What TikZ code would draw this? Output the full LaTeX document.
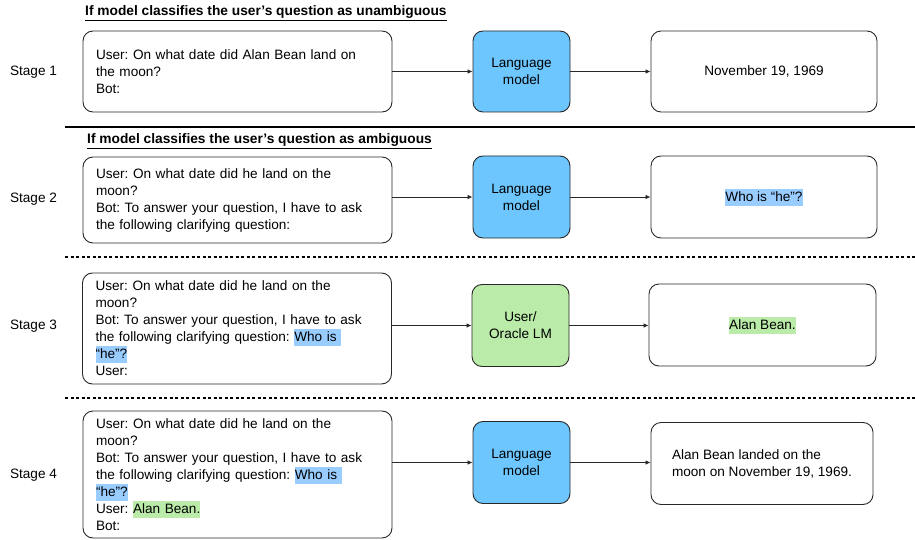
\documentclass[tikz,border=0pt]{standalone}
\usepackage{fontspec}
\setmainfont{Liberation Sans}
\usetikzlibrary{arrows.meta}
\frenchspacing
\definecolor{lmblue}{RGB}{110,198,255}
\definecolor{lmgreen}{RGB}{186,235,168}
\definecolor{hlblue}{RGB}{153,204,255}
\definecolor{hlgreen}{RGB}{186,235,168}
\definecolor{edgegray}{RGB}{40,40,40}
\newcommand{\hlb}[1]{{\setlength{\fboxsep}{0pt}\colorbox{hlblue}{\rule[-4.5pt]{0pt}{17pt}#1}}}
\newcommand{\hlg}[1]{{\setlength{\fboxsep}{0pt}\colorbox{hlgreen}{\rule[-4.5pt]{0pt}{17pt}#1}}}
\begin{document}
\begin{tikzpicture}[x=1pt,y=-1pt,
  every node/.style={font=\fontsize{13.6pt}{17pt}\selectfont, text=black},
  chat/.style={draw=edgegray, line width=0.9pt, rounded corners=10pt, align=left,
    text width=283pt, inner xsep=13pt, inner ysep=3pt},
  lmbox/.style={draw=edgegray, line width=0.9pt, rounded corners=10pt, align=center,
    minimum width=97pt, minimum height=82pt, fill=lmblue},
  outbox/.style={draw=edgegray, line width=0.9pt, rounded corners=10pt, align=center,
    minimum width=226pt, minimum height=82pt},
  title/.style={anchor=west, inner sep=0pt, font=\fontsize{13.75pt}{16pt}\selectfont\bfseries},
  arr/.style={-{Latex[length=5pt,width=4.5pt]}, line width=0.8pt, draw=edgegray},
  sep/.style={line width=1.2pt, draw=black}
]
\useasboundingbox (0,0) rectangle (915,540);

% titles
\node[title] (t1) at (85,13) {\underline{If model classifies the user’s question as unambiguous}};
\node[title] (t2) at (87,141) {\underline{If model classifies the user’s question as ambiguous}};

% stage labels
\node (s1) at (33.5,72) {Stage 1};
\node (s2) at (33.5,199) {Stage 2};
\node (s3) at (33.5,326) {Stage 3};
\node (s4) at (33.5,475) {Stage 4};

% stage 1
\node[chat, minimum height=81pt] (l1) at (237.5,71.5)
  {User: On what date did Alan Bean land on\\the moon?\\Bot:};
\node[lmbox, minimum height=81pt] (m1) at (521.5,71.5) {Language\\model};
\node[outbox, minimum height=81pt] (o1) at (764,71.5) {November 19, 1969};
\draw[arr] (l1.east |- m1.west) -- (m1.west);
\draw[arr] (m1.east) -- (o1.west |- m1.east);

\draw[sep] (65,127) -- (915,127);

% stage 2
\node[chat, minimum height=86pt] (l2) at (237.5,200)
  {User: On what date did he land on the\\moon?\\Bot: To answer your question, I have to ask\\the following clarifying question:};
\node[lmbox] (m2) at (521.5,197) {Language\\model};
\node[outbox] (o2) at (764,197) {\hlb{Who is “he”?}};
\draw[arr] (l2.east |- m2.west) -- (m2.west);
\draw[arr] (m2.east) -- (o2.west |- m2.east);

\draw[sep, line width=1.3pt, dash pattern=on 3pt off 2.5pt] (65,257) -- (915,257);

% stage 3
\node[chat, minimum height=111pt] (l3) at (237,328.5)
  {User: On what date did he land on the\\moon?\\Bot: To answer your question, I have to ask\\the following clarifying question: \hlb{Who is\ }\\\hlb{“he”?}\\User:};
\node[lmbox, fill=lmgreen] (m3) at (520.5,325.5) {User/\\Oracle LM};
\node[outbox, minimum width=227pt] (o3) at (762.5,325) {\hlg{Alan Bean.}};
\draw[arr] (l3.east |- m3.west) -- (m3.west);
\draw[arr] (m3.east) -- (o3.west |- m3.east);

\draw[sep, line width=1.3pt, dash pattern=on 3pt off 2.5pt] (65,398) -- (915,398);

% stage 4
\node[chat, minimum height=127pt] (l4) at (237.5,474.5)
  {User: On what date did he land on the\\moon?\\Bot: To answer your question, I have to ask\\the following clarifying question: \hlb{Who is\ }\\\hlb{“he”?}\\User: \hlg{Alan Bean.}\\Bot:};
\node[lmbox] (m4) at (521.5,462.5) {Language\\model};
\node[outbox, minimum width=222pt, align=left] (o4) at (762,463.5) {Alan Bean landed on the\\moon on November 19, 1969.};
\draw[arr] (l4.east |- m4.west) -- (m4.west);
\draw[arr] (m4.east) -- (o4.west |- m4.east);
\end{tikzpicture}
\end{document}
